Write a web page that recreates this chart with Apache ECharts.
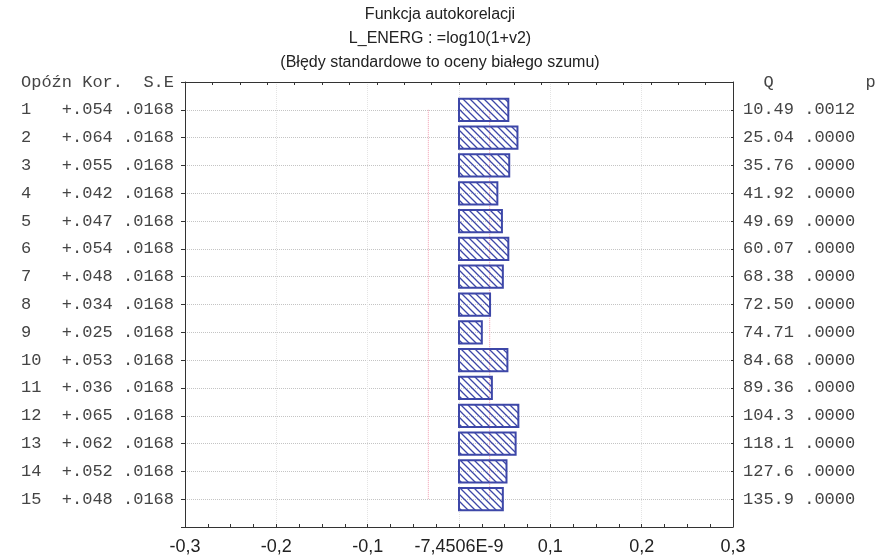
<!DOCTYPE html>
<html>
<head>
<meta charset="utf-8">
<script src="https://cdn.jsdelivr.net/npm/echarts@6/dist/echarts.min.js"></script>
<style>
html, body { margin: 0; padding: 0; background: #fff; }
#chart { width: 880px; height: 557px; }
</style>
</head>
<body>
<div id="chart"></div>
<script>
// dane
var lags = [1, 2, 3, 4, 5, 6, 7, 8, 9, 10, 11, 12, 13, 14, 15];
var kor = [0.054, 0.064, 0.055, 0.042, 0.047, 0.054, 0.048, 0.034, 0.025, 0.053, 0.036, 0.065, 0.062, 0.052, 0.048];
var se = [0.0168, 0.0168, 0.0168, 0.0168, 0.0168, 0.0168, 0.0168, 0.0168, 0.0168, 0.0168, 0.0168, 0.0168, 0.0168, 0.0168, 0.0168];
var qStat = [10.49, 25.04, 35.76, 41.92, 49.69, 60.07, 68.38, 72.50, 74.71, 84.68, 89.36, 104.3, 118.1, 127.6, 135.9];
var pVal = [0.0012, 0, 0, 0, 0, 0, 0, 0, 0, 0, 0, 0, 0, 0, 0];
var xTickLabels = ['-0,3', '-0,2', '-0,1', '-7,4506E-9', '0,1', '0,2', '0,3'];
var leftHeader = 'Opóźn Kor.  S.E';
var rightHeader = '  Q         p';

function dot(v, d) {
  return v.toFixed(d).replace(/^0\./, '.');
}

// wzór kreskowania słupków
var hatch = document.createElement('canvas');
hatch.width = 7;
hatch.height = 7;
(function () {
  var c = hatch.getContext('2d');
  var s = 7;
  c.strokeStyle = '#3d47a8';
  c.lineWidth = 1.3;
  c.beginPath();
  c.moveTo(0, 0); c.lineTo(s, s);
  c.moveTo(-1, s - 1); c.lineTo(1, s + 1);
  c.moveTo(s - 1, -1); c.lineTo(s + 1, 1);
  c.stroke();
})();

var barData = lags.map(function (l, i) { return [kor[i], l]; });
var seLow = [[-2 * se[0], lags[0]], [-2 * se[0], lags[lags.length - 1]]];
var seHigh = [[2 * se[0], lags[0]], [2 * se[0], lags[lags.length - 1]]];

var myChart = echarts.init(document.getElementById('chart'));
var option = {
  animation: false,
  title: {
    text: 'Funkcja autokorelacji\nL_ENERG : =log10(1+v2)\n(Błędy standardowe to oceny białego szumu)',
    left: 'center',
    top: 3,
    padding: 0,
    textStyle: {
      fontFamily: 'Liberation Sans',
      fontSize: 16,
      fontWeight: 'normal',
      color: '#222',
      lineHeight: 24
    }
  },
  grid: {
    left: 185,
    right: 147,
    top: 82,
    bottom: 30,
    outerBoundsMode: 'none'
  },
  xAxis: [
    {
      type: 'value',
      position: 'bottom',
      min: -0.3,
      max: 0.3,
      interval: 0.1,
      axisLine: { onZero: false, lineStyle: { color: '#333', width: 1 } },
      axisTick: { inside: true, length: 3, lineStyle: { color: '#333' } },
      minorTick: { show: true, splitNumber: 4, length: 3, lineStyle: { color: '#333' } },
      splitLine: { show: true, lineStyle: { type: 'dotted', color: '#e4e4e4' } },
      axisLabel: {
        fontFamily: 'Liberation Sans',
        fontSize: 18,
        color: '#222',
        margin: 11,
        formatter: function (v) {
          return xTickLabels[Math.round((v + 0.3) / 0.1)];
        }
      }
    },
    {
      type: 'value',
      position: 'top',
      min: -0.3,
      max: 0.3,
      interval: 0.03,
      axisLine: { onZero: false, lineStyle: { color: '#333', width: 1 } },
      axisTick: { inside: true, length: 3, lineStyle: { color: '#333' } },
      axisLabel: { show: false },
      splitLine: { show: false }
    }
  ],
  yAxis: [
    {
      type: 'value',
      position: 'left',
      inverse: true,
      min: 0,
      max: 16,
      interval: 1,
      axisLine: { show: true, onZero: false, lineStyle: { color: '#333', width: 1 } },
      axisTick: { show: true, length: 4, lineStyle: { color: '#333' } },
      splitLine: { show: true, lineStyle: { type: 'dotted', color: '#c4c4c4' } },
      axisLabel: {
        fontFamily: 'Liberation Mono',
        fontSize: 17,
        color: '#444',
        margin: 11,
        formatter: function (v) {
          if (v === 0) return leftHeader;
          var i = lags.indexOf(v);
          if (i < 0) return '';
          var l = String(lags[i]);
          while (l.length < 4) l += ' ';
          return l + '+' + dot(kor[i], 3) + ' ' + dot(se[i], 4);
        }
      }
    },
    {
      type: 'value',
      position: 'right',
      inverse: true,
      min: 0,
      max: 16,
      interval: 1,
      axisLine: { show: true, onZero: false, lineStyle: { color: '#333', width: 1 } },
      axisTick: { show: true, inside: true, length: 2, lineStyle: { color: '#333' } },
      splitLine: { show: false },
      axisLabel: {
        fontFamily: 'Liberation Mono',
        fontSize: 17,
        color: '#444',
        margin: 10,
        formatter: function (v) {
          if (v === 0) return rightHeader;
          var i = lags.indexOf(v);
          if (i < 0) return '';
          return qStat[i].toPrecision(4) + ' ' + dot(pVal[i], 4);
        }
      }
    }
  ],
  series: [
    {
      type: 'line',
      data: seLow,
      symbol: 'none',
      z: 1,
      lineStyle: { color: '#f29bb0', width: 1, type: 'dotted' }
    },
    {
      type: 'line',
      data: seHigh,
      symbol: 'none',
      z: 1,
      lineStyle: { color: '#f29bb0', width: 1, type: 'dotted' }
    },
    {
      type: 'custom',
      data: barData,
      encode: { x: 0, y: 1 },
      z: 3,
      renderItem: function (params, api) {
        var v = api.value(0);
        var y = api.value(1);
        var p0 = api.coord([0, y]);
        var p1 = api.coord([v, y]);
        var h = api.size([0, 1])[1] * 0.8;
        return {
          type: 'rect',
          shape: { x: p0[0], y: p0[1] - h / 2, width: p1[0] - p0[0], height: h },
          style: {
            fill: { image: hatch, repeat: 'repeat' },
            stroke: '#3d47a8',
            lineWidth: 2
          }
        };
      }
    }
  ]
};
myChart.setOption(option);
</script>
</body>
</html>
